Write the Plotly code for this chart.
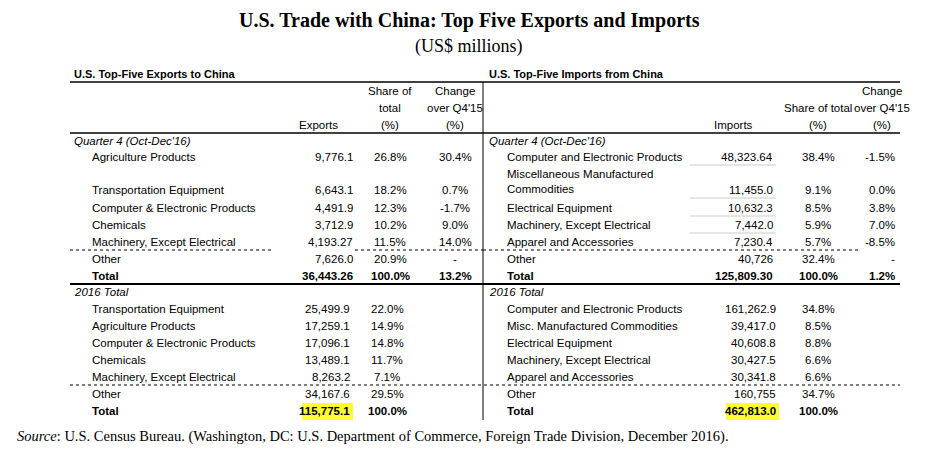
import plotly.graph_objects as go

# Q4 2016 exports to China
exp_q4_names = ["Agriculture Products", "Transportation Equipment", "Computer & Electronic Products",
                "Chemicals", "Machinery, Except Electrical", "Other", "Total"]
exp_q4_vals = ["9,776.1", "6,643.1", "4,491.9", "3,712.9", "4,193.27", "7,626.0", "36,443.26"]
exp_q4_share = ["26.8%", "18.2%", "12.3%", "10.2%", "11.5%", "20.9%", "100.0%"]
exp_q4_chg = ["30.4%", "0.7%", "-1.7%", "9.0%", "14.0%", "-", "13.2%"]

# Q4 2016 imports from China
imp_q4_names = ["Computer and Electronic Products", "Miscellaneous Manufactured<br>Commodities",
                "Electrical Equipment", "Machinery, Except Electrical", "Apparel and Accessories",
                "Other", "Total"]
imp_q4_vals = ["48,323.64", "11,455.0", "10,632.3", "7,442.0", "7,230.4", "40,726", "125,809.30"]
imp_q4_share = ["38.4%", "9.1%", "8.5%", "5.9%", "5.7%", "32.4%", "100.0%"]
imp_q4_chg = ["-1.5%", "0.0%", "3.8%", "7.0%", "-8.5%", "-", "1.2%"]

# 2016 totals
exp_yr_names = ["Transportation Equipment", "Agriculture Products", "Computer & Electronic Products",
                "Chemicals", "Machinery, Except Electrical", "Other", "Total"]
exp_yr_vals = ["25,499.9", "17,259.1", "17,096.1", "13,489.1", "8,263.2", "34,167.6", "115,775.1"]
exp_yr_share = ["22.0%", "14.9%", "14.8%", "11.7%", "7.1%", "29.5%", "100.0%"]

imp_yr_names = ["Computer and Electronic Products", "Misc. Manufactured Commodities",
                "Electrical Equipment", "Machinery, Except Electrical", "Apparel and Accessories",
                "Other", "Total"]
imp_yr_vals = ["161,262.9", "39,417.0", "40,608.8", "30,427.5", "30,341.8", "160,755", "462,813.0"]
imp_yr_share = ["34.8%", "8.5%", "8.8%", "6.6%", "6.6%", "34.7%", "100.0%"]

q4_rows_y = [157, 190, 208, 225, 242, 259, 276]
imp_q4_rows_y = [157, 181, 208, 225, 242, 259, 276]
yr_rows_y = [309, 326, 343, 360, 377, 394, 411]

BODY = "Liberation Sans"
SERIF = "Liberation Serif"
ann = []
shapes = []


def txt(x, y, s, anchor="left", size=11.5, bold=False, italic=False, font=BODY):
    if bold:
        s = "<b>" + s + "</b>"
    if italic:
        s = "<i>" + s + "</i>"
    ann.append(dict(x=x, y=y, text=s, xref="x", yref="y", showarrow=False, xanchor=anchor,
                    yanchor="middle", align=anchor if anchor != "center" else "center",
                    font=dict(family=font, size=size, color="black")))


def line(x0, y0, x1, y1, w=1, dash="solid", color="black"):
    shapes.append(dict(type="line", x0=x0, y0=y0, x1=x1, y1=y1, xref="x", yref="y",
                       line=dict(color=color, width=w, dash=dash)))


# titles
txt(469, 20, "U.S. Trade with China: Top Five Exports and Imports", "center", 20, bold=True, font=SERIF)
txt(469, 46, "(US$ millions)", "center", 18, font=SERIF)
txt(72, 74, "U.S. Top-Five Exports to China", bold=True, size=11)
txt(487, 74, "U.S. Top-Five Imports from China", bold=True, size=11)

# column headers
for s, y in [("Share of", 91), ("total", 108), ("(%)", 125)]:
    txt(390, y, s, "center")
for s, y in [("Change", 91), ("over Q4'15", 108), ("(%)", 125)]:
    txt(455, y, s, "center")
txt(318, 125, "Exports", "center")
txt(733, 125, "Imports", "center")
txt(818, 108, "Share of total", "center")
txt(818, 125, "(%)", "center")
for s, y in [("Change", 91), ("over Q4'15", 108), ("(%)", 125)]:
    txt(882, y, s, "center")

txt(72, 141, "Quarter 4 (Oct-Dec'16)", italic=True)
txt(487, 141, "Quarter 4 (Oct-Dec'16)", italic=True)
txt(72, 292, "2016 Total", italic=True)
txt(487, 292, "2016 Total", italic=True)

for i, y in enumerate(q4_rows_y):
    b = i == 6
    txt(90, y, exp_q4_names[i], bold=b)
    txt(355, y, exp_q4_vals[i], "right", bold=b)
    txt(390, y, exp_q4_share[i], "center", bold=b)
    txt(455, y, exp_q4_chg[i], "center", bold=b)

for i, y in enumerate(imp_q4_rows_y):
    b = i == 6
    txt(505, y, imp_q4_names[i], bold=b)
    vy = 190 if i == 1 else y
    txt(775, vy, imp_q4_vals[i], "right", bold=b)
    txt(818, vy, imp_q4_share[i], "center", bold=b)
    txt(897, vy, imp_q4_chg[i], "right", bold=b)
    if i < 4:
        line(690, vy + 8, 776, vy + 8, 1.2, color="#cccccc")

# highlights behind yearly totals
shapes.append(dict(type="rect", x0=302, x1=353, y0=403, y1=420, xref="x", yref="y",
                   fillcolor="#ffff33", line=dict(width=0), layer="below"))
shapes.append(dict(type="rect", x0=726, x1=779, y0=403, y1=420, xref="x", yref="y",
                   fillcolor="#ffff33", line=dict(width=0), layer="below"))

for i, y in enumerate(yr_rows_y):
    b = i == 6
    txt(90, y, exp_yr_names[i], bold=b)
    txt(352, y, exp_yr_vals[i], "right", bold=b)
    txt(387, y, exp_yr_share[i], "center", bold=b)
    txt(505, y, imp_yr_names[i], bold=b)
    txt(778, y, imp_yr_vals[i], "right", bold=b)
    txt(818, y, imp_yr_share[i], "center", bold=b)

# rules
line(70, 82, 900, 82, 1.5)
line(70, 133, 900, 133, 1.5)
line(70, 284, 900, 284, 2)
line(483, 82, 483, 420, 1)
line(70, 250, 273, 250, 1.2, "dot")
line(355, 250, 483, 250, 1.2, "dot")
line(483, 250, 860, 250, 1.2, "dot")
line(70, 385, 900, 385, 1.2, "dot")

ann.append(dict(x=15, y=436, xref="x", yref="y", showarrow=False, xanchor="left", yanchor="middle",
                text="<i>Source</i>: U.S. Census Bureau. (Washington, DC: U.S. Department of Commerce, "
                     "Foreign Trade Division, December 2016).",
                font=dict(family=SERIF, size=14.5, color="black")))

fig = go.Figure()
fig.update_layout(
    width=938, height=451, margin=dict(l=0, r=0, t=0, b=0),
    paper_bgcolor="white", plot_bgcolor="white",
    # page body adds an ~8px offset, so shift the view to compensate
    xaxis=dict(range=[8, 946], visible=False, fixedrange=True),
    yaxis=dict(range=[459, 8], visible=False, fixedrange=True),
    annotations=ann, shapes=shapes, showlegend=False,
)
fig.write_html("out.html")
